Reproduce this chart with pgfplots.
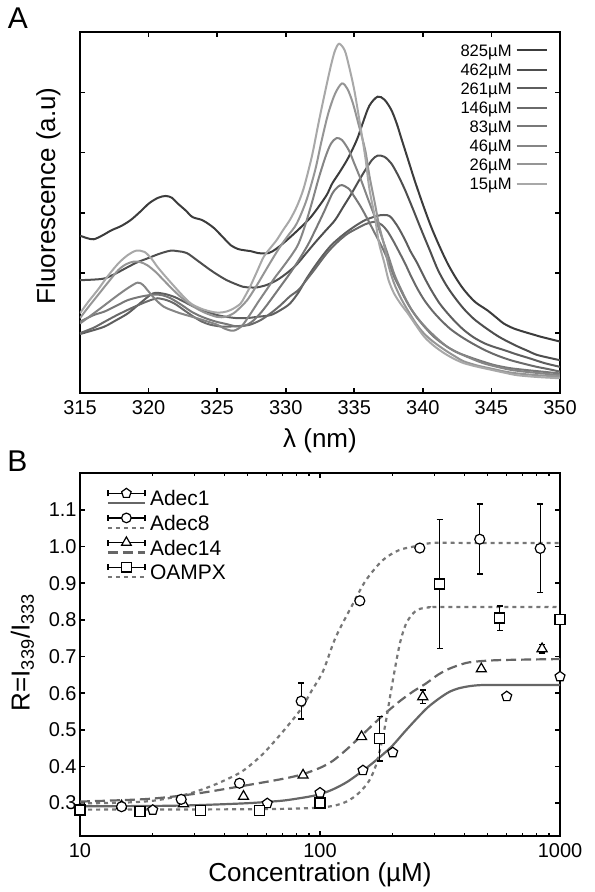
\documentclass[border=0pt]{standalone}
\usepackage{fontspec}
\setmainfont{Liberation Sans}
\usepackage{pgfplots}
\pgfplotsset{compat=1.18}
\usetikzlibrary{plotmarks}
\definecolor{c825}{HTML}{3C3C3C}
\definecolor{c462}{HTML}{4E4E4E}
\definecolor{c261}{HTML}{5E5E5E}
\definecolor{c146}{HTML}{6A6A6A}
\definecolor{c83}{HTML}{787878}
\definecolor{c46}{HTML}{858585}
\definecolor{c26}{HTML}{959595}
\definecolor{c15}{HTML}{A8A8A8}
\definecolor{fitsolid}{HTML}{666666}
\definecolor{fitdash}{HTML}{666666}
\definecolor{fitdot}{HTML}{777777}
\tikzset{
  fitA/.style={fitsolid, line width=1.1pt, solid},
  fitB/.style={fitdot, line width=1.1pt, dash pattern=on 2pt off 2pt},
  fitC/.style={fitdash, line width=1.1pt, dash pattern=on 5pt off 2.5pt},
  fitD/.style={fitdot, line width=1.1pt, dash pattern=on 2pt off 2pt},
}
\begin{document}
\begin{tikzpicture}
\path[use as bounding box] (-40pt,-249.35pt) rectangle (257pt,196.65pt);
\node[font=\fontsize{15}{18}\selectfont] at (-31pt,187.6pt) {A};
\node[font=\fontsize{15}{18}\selectfont] at (-31.25pt,-33.85pt) {B};

\begin{axis}[
  at={(0pt,0pt)}, anchor=south west, scale only axis,
  width=240pt, height=180.5pt,
  xmin=315, xmax=350, ymin=0, ymax=6.0,
  xtick={315,320,325,330,335,340,345,350},
  ytick={1,2,3,4,5}, yticklabels={},
  axis line style={line width=0.9pt},
  major tick style={line width=0.8pt, black},
  major tick length=2.5pt,
  tick label style={font=\fontsize{10}{12}\selectfont},
  /pgf/number format/assume math mode=true,
  xlabel={λ (nm)}, ylabel={Fluorescence (a.u)},
  label style={font=\fontsize{13}{15}\selectfont},
  xlabel style={at={(axis description cs:0.5,0)}, anchor=center, yshift=-23.5pt},
  ylabel style={at={(axis description cs:-0.066,0.547)}, anchor=center},
  legend style={draw=none, fill=none, inner sep=0pt,
    at={(axis description cs:0.975,0.977)}, anchor=north east,
    font=\fontsize{8.3}{9.5}\selectfont, row sep=0pt,
    nodes={inner ysep=1.75pt, text height=6pt, text depth=0pt}},
  legend cell align=right,
  legend plot pos=right,
  legend image code/.code={\draw[#1] (0pt,0pt) -- (15pt,0pt);},
]
\addplot[c825, line width=1pt, smooth] coordinates {
(315.0,2.62) (315.5,2.58) (316.0,2.56) (316.6,2.62) (317.3,2.71) (318.0,2.78) (318.7,2.88) (319.4,3.02) (320.05,3.16) (320.7,3.25) (321.25,3.28) (321.7,3.25) (322.1,3.16) (322.7,3.04) (323.2,2.93) (323.9,2.88) (324.4,2.81) (324.8,2.74) (325.4,2.60) (326.0,2.46) (326.5,2.40) (326.9,2.38) (327.5,2.36) (328.0,2.33) (328.75,2.33) (329.3,2.40) (329.8,2.49) (330.5,2.63) (331.2,2.78) (331.8,2.92) (332.4,3.10) (333.0,3.30) (333.4,3.49) (334.0,3.70) (334.6,3.93) (335.2,4.22) (335.6,4.48) (336.1,4.78) (336.7,4.93) (337.2,4.88) (337.7,4.71) (338.1,4.48) (338.4,4.26) (338.9,3.90) (339.4,3.54) (340.0,3.14) (340.6,2.77) (341.2,2.45) (341.8,2.16) (342.4,1.92) (343.0,1.72) (343.8,1.52) (344.7,1.38) (345.3,1.27) (345.9,1.16) (346.6,1.08) (347.4,1.02) (348.0,0.98) (348.6,0.94) (349.3,0.90) (350.0,0.86)};
\addlegendentry{825µM}
\addplot[c462, line width=1pt, smooth] coordinates {
(315.0,1.88) (316.0,1.89) (316.8,1.91) (317.6,1.99) (318.5,2.10) (319.2,2.18) (319.9,2.24) (320.8,2.32) (321.6,2.37) (322.2,2.36) (322.8,2.33) (323.6,2.20) (324.5,2.05) (325.1,1.96) (325.7,1.88) (326.3,1.82) (326.9,1.77) (327.4,1.76) (327.9,1.76) (328.6,1.80) (329.35,1.88) (330.1,2.00) (330.8,2.14) (331.5,2.33) (332.2,2.52) (332.9,2.70) (333.6,2.88) (334.2,3.10) (334.8,3.32) (335.3,3.52) (335.8,3.71) (336.3,3.88) (336.7,3.95) (337.2,3.93) (337.7,3.82) (338.2,3.62) (338.7,3.38) (339.3,3.05) (339.9,2.71) (340.5,2.38) (341.1,2.05) (341.7,1.80) (342.3,1.60) (343.0,1.40) (343.7,1.24) (344.5,1.10) (345.4,0.96) (346.1,0.87) (346.9,0.78) (347.6,0.71) (348.3,0.64) (349.2,0.59) (350.0,0.55)};
\addlegendentry{462µM}
\addplot[c261, line width=1pt, smooth] coordinates {
(315.0,0.985) (316.0,1.05) (316.8,1.11) (317.6,1.21) (318.5,1.33) (319.4,1.50) (320.1,1.63) (320.5,1.67) (321.2,1.65) (321.9,1.60) (322.6,1.52) (323.3,1.44) (324.1,1.37) (325.0,1.30) (325.7,1.27) (326.4,1.25) (327.2,1.25) (327.9,1.27) (328.9,1.30) (329.6,1.38) (330.3,1.49) (330.94,1.68) (331.5,1.90) (332.15,2.12) (332.8,2.32) (333.36,2.47) (334.0,2.60) (334.56,2.70) (335.2,2.80) (335.8,2.88) (336.4,2.93) (336.9,2.96) (337.4,2.96) (337.7,2.92) (338.2,2.76) (338.7,2.55) (339.1,2.36) (339.6,2.16) (340.1,1.93) (340.6,1.72) (341.2,1.50) (341.8,1.33) (342.4,1.18) (343.0,1.05) (343.7,0.93) (344.5,0.83) (345.2,0.77) (345.9,0.72) (346.8,0.65) (347.8,0.58) (348.9,0.50) (350.0,0.44)};
\addlegendentry{261µM}
\addplot[c146, line width=1pt, smooth] coordinates {
(315.0,1.0) (316.0,1.09) (316.8,1.19) (317.7,1.30) (318.7,1.41) (319.7,1.51) (320.3,1.56) (320.65,1.58) (321.3,1.55) (321.9,1.49) (322.6,1.38) (323.3,1.27) (323.9,1.19) (324.5,1.14) (325.3,1.11) (326.0,1.11) (326.7,1.12) (327.4,1.14) (328.2,1.22) (328.9,1.33) (329.6,1.46) (330.3,1.61) (330.94,1.72) (331.5,1.88) (332.15,2.07) (332.8,2.27) (333.36,2.42) (334.0,2.56) (334.56,2.66) (335.2,2.74) (335.8,2.81) (336.5,2.85) (337.0,2.80) (337.4,2.70) (337.8,2.55) (338.2,2.38) (338.7,2.16) (339.15,1.94) (339.6,1.74) (340.1,1.55) (340.7,1.37) (341.3,1.22) (342.0,1.07) (342.8,0.94) (343.6,0.83) (344.5,0.72) (345.4,0.63) (346.4,0.55) (347.4,0.49) (348.3,0.44) (349.2,0.40) (350.0,0.36)};
\addlegendentry{146µM}
\addplot[c83, line width=1pt, smooth] coordinates {
(315.0,1.19) (316.0,1.30) (316.8,1.36) (317.7,1.46) (318.5,1.55) (319.5,1.61) (320.4,1.64) (321.0,1.63) (321.6,1.58) (322.4,1.47) (323.1,1.36) (323.8,1.28) (324.5,1.22) (325.1,1.18) (325.7,1.15) (326.2,1.12) (326.7,1.11) (327.2,1.14) (327.7,1.22) (328.3,1.37) (328.9,1.55) (329.6,1.77) (330.3,1.99) (330.94,2.21) (331.6,2.46) (332.15,2.71) (332.8,3.02) (333.4,3.32) (333.8,3.43) (334.1,3.46) (334.6,3.40) (335.0,3.27) (335.5,3.09) (336.0,2.88) (336.5,2.66) (337.0,2.44) (337.5,2.19) (337.9,1.94) (338.4,1.71) (338.9,1.49) (339.5,1.28) (340.1,1.11) (340.8,0.94) (341.6,0.80) (342.4,0.69) (343.3,0.61) (344.2,0.54) (345.2,0.47) (346.3,0.42) (347.4,0.39) (348.7,0.36) (350.0,0.33)};
\addlegendentry{83µM}
\addplot[c46, line width=1pt, smooth] coordinates {
(315.0,1.16) (315.6,1.26) (316.3,1.38) (317.0,1.50) (317.75,1.63) (318.5,1.75) (319.2,1.84) (319.6,1.80) (319.9,1.72) (320.5,1.56) (321.1,1.44) (321.7,1.38) (322.3,1.33) (322.9,1.29) (323.5,1.25) (324.2,1.20) (325.0,1.14) (325.6,1.07) (326.2,1.04) (326.8,1.12) (327.4,1.31) (328.0,1.52) (328.6,1.72) (329.2,1.92) (329.8,2.10) (330.5,2.32) (330.94,2.49) (331.4,2.78) (331.9,3.16) (332.4,3.57) (332.9,3.93) (333.3,4.15) (333.7,4.24) (334.1,4.21) (334.6,4.04) (335.0,3.82) (335.5,3.54) (336.0,3.23) (336.5,2.93) (337.0,2.60) (337.5,2.27) (337.9,1.99) (338.2,1.83) (338.7,1.59) (339.2,1.38) (339.8,1.20) (340.4,1.05) (341.1,0.90) (341.8,0.77) (342.6,0.67) (343.5,0.58) (344.4,0.50) (345.4,0.44) (346.4,0.39) (347.4,0.36) (348.7,0.33) (350.0,0.30)};
\addlegendentry{46µM}
\addplot[c26, line width=1pt, smooth] coordinates {
(315.0,1.25) (315.6,1.43) (316.3,1.63) (317.0,1.83) (317.8,2.05) (318.4,2.15) (318.96,2.19) (319.4,2.18) (319.9,2.13) (320.5,2.02) (321.1,1.88) (321.7,1.74) (322.3,1.61) (322.9,1.50) (323.5,1.41) (324.2,1.33) (325.0,1.27) (325.6,1.27) (326.2,1.33) (326.7,1.43) (327.2,1.55) (327.8,1.76) (328.4,1.99) (329.0,2.22) (329.6,2.44) (330.2,2.63) (330.8,2.82) (331.5,3.20) (332.15,3.71) (332.6,4.18) (333.1,4.65) (333.6,4.98) (334.1,5.15) (334.5,5.06) (334.9,4.82) (335.3,4.48) (335.8,4.04) (336.1,3.62) (336.5,3.16) (336.8,2.80) (337.2,2.44) (337.5,2.12) (337.9,1.83) (338.4,1.58) (338.9,1.38) (339.5,1.16) (340.1,0.99) (340.8,0.85) (341.6,0.72) (342.3,0.62) (343.0,0.53) (344.0,0.46) (345.0,0.41) (346.0,0.36) (346.9,0.33) (348.4,0.30) (350.0,0.28)};
\addlegendentry{26µM}
\addplot[c15, line width=1pt, smooth] coordinates {
(315.0,1.33) (315.6,1.52) (316.3,1.72) (317.0,1.94) (317.8,2.16) (318.5,2.30) (319.1,2.37) (319.7,2.35) (320.2,2.24) (320.65,2.10) (321.2,1.95) (321.9,1.77) (322.5,1.62) (323.1,1.49) (323.8,1.41) (324.5,1.36) (325.1,1.34) (325.7,1.36) (326.2,1.41) (326.7,1.49) (327.0,1.60) (327.4,1.77) (327.9,2.02) (328.4,2.27) (328.9,2.42) (329.35,2.55) (329.8,2.71) (330.3,2.88) (330.8,3.10) (331.3,3.40) (331.9,3.93) (332.4,4.50) (332.9,5.04) (333.3,5.45) (333.6,5.70) (333.9,5.81) (334.3,5.70) (334.6,5.45) (335.0,5.04) (335.4,4.50) (335.8,3.93) (336.1,3.40) (336.5,2.93) (336.8,2.50) (337.2,2.16) (337.5,1.88) (337.9,1.66) (338.4,1.48) (338.9,1.33) (339.5,1.13) (340.1,0.94) (340.8,0.79) (341.6,0.66) (342.3,0.57) (343.0,0.50) (344.0,0.44) (345.0,0.39) (346.0,0.34) (346.9,0.30) (348.4,0.27) (350.0,0.25)};
\addlegendentry{15µM}
\end{axis}

\begin{axis}[
  at={(0pt,-40pt)}, anchor=north west, scale only axis,
  width=240pt, height=181.35pt,
  xmode=log, xmin=10, xmax=1000, ymin=0.21, ymax=1.2,
  xtick={10,100,1000}, xticklabels={10,100,1000},
  minor xtick={20,30,40,50,60,70,80,90,200,300,400,500,600,700,800,900},
  ytick={0.3,0.4,0.5,0.6,0.7,0.8,0.9,1.0,1.1},
  yticklabels={0.3,0.4,0.5,0.6,0.7,0.8,0.9,1.0,1.1},
  axis line style={line width=0.9pt},
  major tick style={line width=0.8pt, black},
  minor tick style={line width=0.6pt, black},
  major tick length=2.5pt, minor tick length=1.5pt,
  tick label style={font=\fontsize{10}{12}\selectfont},
  yticklabel style={inner xsep=1.5pt},
  /pgf/number format/assume math mode=true,
  xlabel={Concentration (µM)}, ylabel={R=I\textsubscript{339}/I\textsubscript{333}},
  label style={font=\fontsize{13}{15}\selectfont},
  xlabel style={at={(axis description cs:0.5,0)}, anchor=center, yshift=-19.5pt},
  ylabel style={at={(axis description cs:-0.12,0.507)}, anchor=center},
  legend style={draw=none, fill=none, inner sep=0pt,
    at={(axis description cs:0.055,0.966)}, anchor=north west,
    font=\fontsize{10.5}{12}\selectfont, row sep=0pt,
    nodes={inner ysep=2.35pt, text height=7.6pt, text depth=0pt}},
  legend cell align=left,
  mk/.style={mark options={draw=black, fill=white, line width=0.6pt, solid}, mark size=2.5pt},
  eb/.style={error bars/.cd, y dir=both, y explicit,
    error bar style={line width=0.7pt, black, solid},
    error mark options={rotate=90, line width=0.7pt, black, mark size=1.5pt}},
]
% fitted curves
\addplot[fitA, smooth, forget plot] coordinates {
(10,0.291) (20,0.292) (30,0.294) (48,0.299) (60,0.303) (71,0.307) (82,0.313) (91,0.318) (100,0.324) (113,0.337) (130,0.358) (155,0.394) (178,0.426) (200,0.456) (225,0.494) (251,0.528) (280,0.560) (313,0.585) (345,0.603) (378,0.613) (420,0.619) (473,0.622) (600,0.622) (1000,0.622)};
\addplot[fitB, smooth, forget plot] coordinates {
(10,0.299) (15,0.301) (20,0.306) (25.5,0.318) (30,0.330) (37,0.352) (47,0.385) (57,0.430) (68,0.485) (83,0.555) (92,0.605) (103,0.660) (116,0.751) (137,0.843) (155,0.907) (182,0.962) (213,0.990) (250,1.001) (295,1.010) (400,1.010) (1000,1.010)};
\addplot[fitC, smooth, forget plot] coordinates {
(10,0.304) (19,0.311) (30,0.325) (48,0.347) (70,0.366) (84,0.378) (100,0.396) (113,0.415) (130,0.448) (155,0.495) (180,0.535) (213,0.576) (245,0.605) (276,0.626) (310,0.650) (344,0.666) (390,0.679) (430,0.685) (554,0.690) (1000,0.693)};
\addplot[fitD, smooth, forget plot] coordinates {
(10,0.282) (50,0.283) (90,0.286) (113,0.292) (130,0.305) (145.6,0.328) (160,0.360) (170.6,0.401) (180,0.460) (188,0.521) (197,0.600) (206.6,0.677) (216,0.740) (227.5,0.787) (242,0.815) (258,0.829) (285,0.834) (313,0.835) (1000,0.835)};
% data points
\addplot[only marks, mark=pentagon*, mk, mark size=2.6pt, forget plot] coordinates {
(10,0.284) (20.1,0.281) (60.3,0.299) (100,0.328) (151,0.389) (201,0.438) (600,0.591) (1000,0.645)};
\addplot[only marks, mark=square*, mk, forget plot, eb] coordinates {
(10,0.281) (17.8,0.276) (31.8,0.280) (55.8,0.279) (100,0.300)
(177,0.476) +- (0,0.061)
(315,0.898) += (0,0.176) -= (0,0.177)
(561,0.805) += (0,0.033) -= (0,0.034)
(1000,0.800)};
\addplot[only marks, mark=triangle*, mk, mark size=2.9pt, forget plot, eb] coordinates {
(14.9,0.292) (27,0.298) (48,0.318) (85,0.376) (149,0.481)
(268,0.590) +- (0,0.018)
(470,0.666)
(842,0.721) +- (0,0.012)};
\addplot[only marks, mark=*, mk, forget plot, eb] coordinates {
(14.9,0.290) (26.4,0.310) (46.2,0.354)
(83.5,0.578) += (0,0.050) -= (0,0.049)
(146.5,0.852) (260.5,0.996)
(463,1.020) += (0,0.096) -= (0,0.095)
(827,0.995) += (0,0.121) -= (0,0.120)};
% legend
\addlegendimage{legend image code/.code={
  \draw[black, line width=0.6pt] (0pt,2.5pt) -- (18.5pt,2.5pt) (0pt,1pt) -- (0pt,4pt) (18.5pt,1pt) -- (18.5pt,4pt);
  \draw[black, line width=0.6pt, mark=pentagon*, mark size=2.5pt, mark options={fill=white}] plot coordinates {(9.25pt,2.5pt)};
  \draw[fitA] (0pt,-2.5pt) -- (18.5pt,-2.5pt);}}
\addlegendentry{Adec1}
\addlegendimage{legend image code/.code={
  \draw[black, line width=0.6pt] (0pt,2.5pt) -- (18.5pt,2.5pt) (0pt,1pt) -- (0pt,4pt) (18.5pt,1pt) -- (18.5pt,4pt);
  \draw[black, line width=0.6pt, mark=*, mark size=2.4pt, mark options={fill=white}] plot coordinates {(9.25pt,2.5pt)};
  \draw[fitB] (0pt,-2.5pt) -- (18.5pt,-2.5pt);}}
\addlegendentry{Adec8}
\addlegendimage{legend image code/.code={
  \draw[black, line width=0.6pt] (0pt,2.5pt) -- (18.5pt,2.5pt) (0pt,1pt) -- (0pt,4pt) (18.5pt,1pt) -- (18.5pt,4pt);
  \draw[black, line width=0.6pt, mark=triangle*, mark size=2.8pt, mark options={fill=white}] plot coordinates {(9.25pt,2.5pt)};
  \draw[fitC] (0pt,-2.5pt) -- (18.5pt,-2.5pt);}}
\addlegendentry{Adec14}
\addlegendimage{legend image code/.code={
  \draw[black, line width=0.6pt] (0pt,2.5pt) -- (18.5pt,2.5pt) (0pt,1pt) -- (0pt,4pt) (18.5pt,1pt) -- (18.5pt,4pt);
  \draw[black, line width=0.6pt, mark=square*, mark size=2.4pt, mark options={fill=white}] plot coordinates {(9.25pt,2.5pt)};
  \draw[fitD] (0pt,-2.5pt) -- (18.5pt,-2.5pt);}}
\addlegendentry{OAMPX}
\end{axis}
\end{tikzpicture}
\end{document}
